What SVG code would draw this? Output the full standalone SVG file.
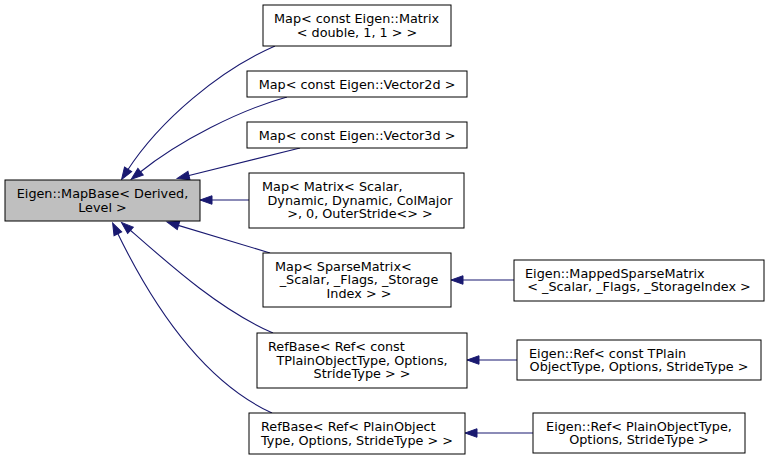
<svg xmlns="http://www.w3.org/2000/svg" width="769" height="460" viewBox="0 0 769 460">
<style>
  .n rect { fill: #ffffff; stroke: #000000; stroke-width: 1; }
  .n.main rect { fill: #bfbfbf; }
  text { font-family: "DejaVu Sans", sans-serif; font-size: 12.8px; fill: #000000; }
  .m { text-anchor: middle; }
  .s { text-anchor: start; }
  .e path { fill: none; stroke: #191970; stroke-width: 1.1; marker-end: url(#ah); }
</style>
<defs>
  <marker id="ah" markerUnits="userSpaceOnUse" markerWidth="13" markerHeight="10" refX="2" refY="4.25" orient="auto" overflow="visible">
    <path d="M0,0 L12,4.25 L0,8.5 z" fill="#191970" stroke="#191970" stroke-width="1"/>
  </marker>
</defs>
<rect width="769" height="460" fill="#ffffff"/>

<g id="edges" class="e">
  <path d="M275,46 C220,70 160,120 127,171"/>
  <path d="M287,97 C240,110 180,140 139,173"/>
  <path d="M300,148 L187,176"/>
  <path d="M249,200 L210,200"/>
  <path d="M270,253 L176.6,224.9"/>
  <path d="M273,333 C220,310 170,265 129,229"/>
  <path d="M272,413 C200,380 150,300 117,232"/>
  <path d="M514,280 L461,280"/>
  <path d="M517,360 L477,360"/>
  <path d="M533,433 L475,433"/>
</g>

<g id="mapbase" class="n main">
  <rect x="5" y="180" width="195" height="41"/>
  <text class="m" x="102.5" y="198">Eigen::MapBase&lt; Derived,</text>
  <text class="m" x="102.5" y="211.5">Level &gt;</text>
</g>

<g id="map_matrix_double" class="n">
  <rect x="263" y="5" width="188" height="41"/>
  <text class="s" x="274" y="23">Map&lt; const Eigen::Matrix</text>
  <text class="m" x="357" y="36.5">&lt; double, 1, 1 &gt; &gt;</text>
</g>

<g id="map_vector2d" class="n">
  <rect x="247" y="71" width="220" height="26"/>
  <text class="m" x="357" y="88.5">Map&lt; const Eigen::Vector2d &gt;</text>
</g>

<g id="map_vector3d" class="n">
  <rect x="247" y="122" width="220" height="26"/>
  <text class="m" x="357" y="139.5">Map&lt; const Eigen::Vector3d &gt;</text>
</g>

<g id="map_matrix_scalar" class="n">
  <rect x="249" y="173" width="215" height="55"/>
  <text class="s" x="262" y="191">Map&lt; Matrix&lt; Scalar,</text>
  <text class="m" x="360" y="204.5">Dynamic, Dynamic, ColMajor</text>
  <text class="m" x="360" y="218">&gt;, 0, OuterStride&lt;&gt; &gt;</text>
</g>

<g id="map_sparse" class="n">
  <rect x="263" y="253" width="188" height="54"/>
  <text class="s" x="275" y="270.5">Map&lt; SparseMatrix&lt;</text>
  <text class="m" x="359" y="284">_Scalar, _Flags, _Storage</text>
  <text class="m" x="359" y="297.5">Index &gt; &gt;</text>
</g>

<g id="refbase_const" class="n">
  <rect x="257" y="333" width="210" height="55"/>
  <text class="s" x="268" y="351">RefBase&lt; Ref&lt; const</text>
  <text class="m" x="362" y="364.5">TPlainObjectType, Options,</text>
  <text class="m" x="362" y="378">StrideType &gt; &gt;</text>
</g>

<g id="refbase_plain" class="n">
  <rect x="249" y="413" width="216" height="41"/>
  <text class="s" x="261" y="431">RefBase&lt; Ref&lt; PlainObject</text>
  <text class="m" x="357" y="444.5">Type, Options, StrideType &gt; &gt;</text>
</g>

<g id="mapped_sparse" class="n">
  <rect x="514" y="260" width="250" height="41"/>
  <text class="s" x="525" y="277.5">Eigen::MappedSparseMatrix</text>
  <text class="m" x="639" y="291">&lt; _Scalar, _Flags, _StorageIndex &gt;</text>
</g>

<g id="ref_const" class="n">
  <rect x="517" y="340" width="244" height="40"/>
  <text class="s" x="529" y="357.5">Eigen::Ref&lt; const TPlain</text>
  <text class="m" x="639" y="371">ObjectType, Options, StrideType &gt;</text>
</g>

<g id="ref_plain" class="n">
  <rect x="533" y="413" width="212" height="40"/>
  <text class="m" x="639" y="430.5">Eigen::Ref&lt; PlainObjectType,</text>
  <text class="m" x="639" y="444">Options, StrideType &gt;</text>
</g>
</svg>
